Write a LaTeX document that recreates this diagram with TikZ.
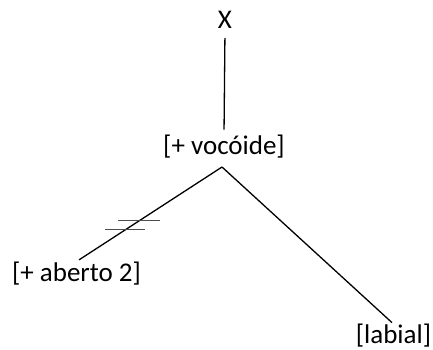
\documentclass[tikz,border=0pt]{standalone}
\usepackage{fontspec}
\setmainfont{Carlito}
\begin{document}
		\begin{tikzpicture}[x=0.5pt,y=0.5pt]
			\tikzstyle{every node}+=[inner sep=0pt,font=\fontsize{13.5}{16}\selectfont]
			\tikzstyle{branch}=[black,line width=0.65pt]
			\tikzstyle{cut}=[black!70,line width=0.55pt]
			\useasboundingbox (0,0) rectangle (433,-349);
			\node (x) at (225,-20) {X};
			\node (voc) at (224,-146.5) {[+ vocóide]};
			\node (aberto) at (76.5,-273.5) {[+ aberto 2]};
			\node (labial) at (393.5,-336) {[labial]};
			\coordinate (apex) at (222,-167);
			\draw [branch,shorten <=4.5pt,shorten >=2.5pt] (x.south) -- (voc.north);
			\draw [branch,shorten >=1.5pt] (apex) -- (aberto.north) coordinate[pos=0.57] (cutA) coordinate[pos=0.665] (cutB);
			\draw [branch,shorten >=1pt] (apex) -- (labial.north);
			\draw [cut] ([xshift=-10.5pt]cutA) -- ([xshift=10.5pt]cutA);
			\draw [cut] ([xshift=-10pt]cutB) -- ([xshift=10pt]cutB);
		\end{tikzpicture}
\end{document}
